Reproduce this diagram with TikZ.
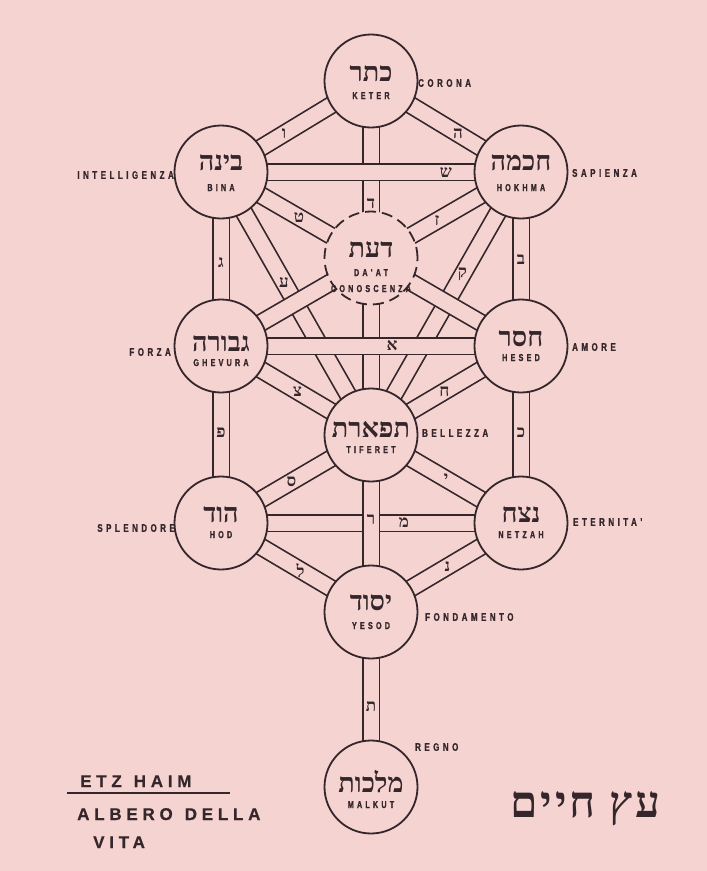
\documentclass[tikz,border=0pt]{standalone}
\usepackage{fontspec}
\setmainfont{Liberation Sans}
\newfontfamily\hebfont[Script=Hebrew]{Liberation Serif}
\newfontfamily\hebtitle[Script=Hebrew,LetterSpace=7]{Liberation Serif}
\newfontfamily\labfont[LetterSpace=32,FakeStretch=0.72,BoldFeatures={FakeBold=1.2}]{Liberation Sans}
\newfontfamily\titfont[LetterSpace=28,BoldFeatures={FakeBold=0.6}]{Liberation Sans}
\TeXXeTstate=1
\pgfdeclarelayer{backlayer}
\pgfdeclarelayer{pathlayer}
\pgfsetlayers{backlayer,pathlayer,main}
\definecolor{bgpink}{RGB}{245,211,209}
\definecolor{ink}{RGB}{52,38,42}
\tikzset{
 sefira/.style={circle, draw=ink, fill=bgpink, line width=1.8pt, minimum size=93pt, inner sep=0pt},
 daatstyle/.style={sefira, dash pattern=on 11pt off 6pt},
 band/.style={draw=ink, line width=1.7pt, double=bgpink, double distance=15pt},
 pathletter/.style={font=\hebfont\bfseries\fontsize{17}{17}\selectfont, text=ink, inner sep=0pt},
 hebname/.style={font=\hebfont\bfseries\fontsize{27}{27}\selectfont, text=ink, inner sep=0pt, anchor=base},
 latname/.style={font=\labfont\bfseries\fontsize{10}{10}\selectfont, text=ink, inner sep=0pt, anchor=base},
 sidelabel/.style={font=\labfont\bfseries\fontsize{11}{11}\selectfont, text=ink, inner sep=0pt},
 titletext/.style={font=\titfont\bfseries\fontsize{17}{17}\selectfont, text=ink, inner sep=0pt, anchor=base west},
}
\begin{document}
\begin{tikzpicture}[x=1pt,y=-1pt]
\begin{pgfonlayer}{backlayer}
\fill[bgpink] (0,0) rectangle (707,871);
\end{pgfonlayer}
\useasboundingbox (0,0) rectangle (707,871);

% sefirot
\node[sefira] (keter) at (371,81) {};
\node[sefira] (binah) at (221,172) {};
\node[sefira] (chokmah) at (521,172) {};
\node[daatstyle] (daat) at (371,258) {};
\node[sefira] (gevurah) at (221,346) {};
\node[sefira] (chesed) at (521,346) {};
\node[sefira] (tiferet) at (371,435) {};
\node[sefira] (hod) at (221,523) {};
\node[sefira] (netzach) at (521,523) {};
\node[sefira] (yesod) at (371,612) {};
\node[sefira] (malkut) at (371,787) {};

% names in circles
\node[hebname] (keterH) at (371,81) {\beginR כתר\endR};
\node[latname] (keterL) at (371,99) {KETER};
\node[hebname] (binahH) at (221,170) {\beginR בינה\endR};
\node[latname] (binahL) at (221,191) {BINA};
\node[hebname] (chokmahH) at (521,170) {\beginR חכמה\endR};
\node[latname] (chokmahL) at (521,191) {HOKHMA};
\node[hebname] (daatH) at (371,257) {\beginR דעת\endR};
\node[latname] (daatL) at (371,276) {DA'AT};
\node[latname] (daatL2) at (371,292) {CONOSCENZA};
\node[hebname] (gevurahH) at (221,351) {\beginR גבורה\endR};
\node[latname] (gevurahL) at (221,366) {GHEVURA};
\node[hebname] (chesedH) at (521,346) {\beginR חסר\endR};
\node[latname] (chesedL) at (521,361) {HESED};
\node[hebname] (tiferetH) at (371,437) {\beginR תפארת\endR};
\node[latname] (tiferetL) at (371,453) {TIFERET};
\node[hebname] (hodH) at (221,522) {\beginR הוד\endR};
\node[latname] (hodL) at (221,538) {HOD};
\node[hebname] (netzachH) at (521,522) {\beginR נצח\endR};
\node[latname] (netzachL) at (521,538) {NETZAH};
\node[hebname] (yesodH) at (371,610) {\beginR יסוד\endR};
\node[latname] (yesodL) at (371,629) {YESOD};
\node[hebname] (malkutH) at (371,792) {\beginR מלכות\endR};
\node[latname] (malkutL) at (371,808) {MALKUT};

% side labels
\node[sidelabel, anchor=west] (corona) at (418,83) {CORONA};
\node[sidelabel, anchor=east] (intell) at (174,175) {INTELLIGENZA};
\node[sidelabel, anchor=west] (sapienza) at (572,173) {SAPIENZA};
\node[sidelabel, anchor=east] (forza) at (171,352) {FORZA};
\node[sidelabel, anchor=west] (amore) at (572,347) {AMORE};
\node[sidelabel, anchor=west] (bellezza) at (422,433) {BELLEZZA};
\node[sidelabel, anchor=east] (splendore) at (175,528) {SPLENDORE};
\node[sidelabel, anchor=west] (eternita) at (573,522) {ETERNITA'};
\node[sidelabel, anchor=west] (fondamento) at (425,617) {FONDAMENTO};
\node[sidelabel, anchor=west] (regno) at (415,747) {REGNO};

% paths
\begin{pgfonlayer}{pathlayer}
\draw[band] (binah.center) -- (tiferet.center) node[pathletter,pos=.42] (pAyin) {ע};
\draw[band] (chokmah.center) -- (tiferet.center) node[pathletter,pos=.39] (pQof) {ק};
\draw[band] (binah.center) -- (chesed.center) node[pathletter,pos=.26] (pTet) {ט};
\draw[band] (chokmah.center) -- (gevurah.center) node[pathletter,pos=.28] (pZayin) {ז};
\draw[band] (keter.center) -- (binah.center) node[pathletter,pos=.58] (pVav) {ו};
\draw[band] (keter.center) -- (chokmah.center) node[pathletter,pos=.58] (pHe) {ה};
\draw[band] (gevurah.center) -- (tiferet.center) node[pathletter,pos=.51] (pTsadi) {צ};
\draw[band] (chesed.center) -- (tiferet.center) node[pathletter,pos=.51] (pHet) {ח};
\draw[band] (tiferet.center) -- (hod.center) node[pathletter,pos=.53] (pSamekh) {ס};
\draw[band] (tiferet.center) -- (netzach.center) node[pathletter,pos=.5] (pYod) {י};
\draw[band] (hod.center) -- (yesod.center) node[pathletter,pos=.53] (pLamed) {ל};
\draw[band] (netzach.center) -- (yesod.center) node[pathletter,pos=.49] (pNun) {נ};
\draw[band] (binah.center) -- (gevurah.center) node[pathletter,pos=.52] (pGimel) {ג};
\draw[band] (chokmah.center) -- (chesed.center) node[pathletter,pos=.5] (pBet) {ב};
\draw[band] (gevurah.center) -- (hod.center) node[pathletter,pos=.49] (pPe) {פ};
\draw[band] (chesed.center) -- (netzach.center) node[pathletter,pos=.49] (pKaf) {כ};
\draw[band] (yesod.center) -- (malkut.center) node[pathletter,pos=.54] (pTav) {ת};
\draw[band] (keter.center) -- (tiferet.center) node[pathletter,pos=.345] (pDalet) {ד};
\draw[band] (binah.center) -- (chokmah.center) node[pathletter,pos=.75] (pShin) {ש};
\draw[band] (gevurah.center) -- (chesed.center) node[pathletter,pos=.57] (pAlef) {א};
\draw[band] (hod.center) -- (netzach.center) node[pathletter,pos=.61] (pMem) {מ};
\draw[band] (tiferet.center) -- (yesod.center) node[pathletter,pos=.48] (pResh) {ר};
\end{pgfonlayer}

% title block
\node[titletext] (etz) at (80,787) {ETZ\hspace{12pt}HAIM};
\draw[ink, line width=2.2pt] (67,793) -- (230,793);
\node[titletext] (albero) at (77,820) {ALBERO\hspace{12pt}DELLA};
\node[titletext] (vita) at (93,848) {VITA};
\node[font=\hebtitle\bfseries\fontsize{44}{44}\selectfont, text=ink, inner sep=0pt, anchor=base east] (etzhaim) at (661,817) {\beginR עץ חיים\endR};
\end{tikzpicture}
\end{document}
